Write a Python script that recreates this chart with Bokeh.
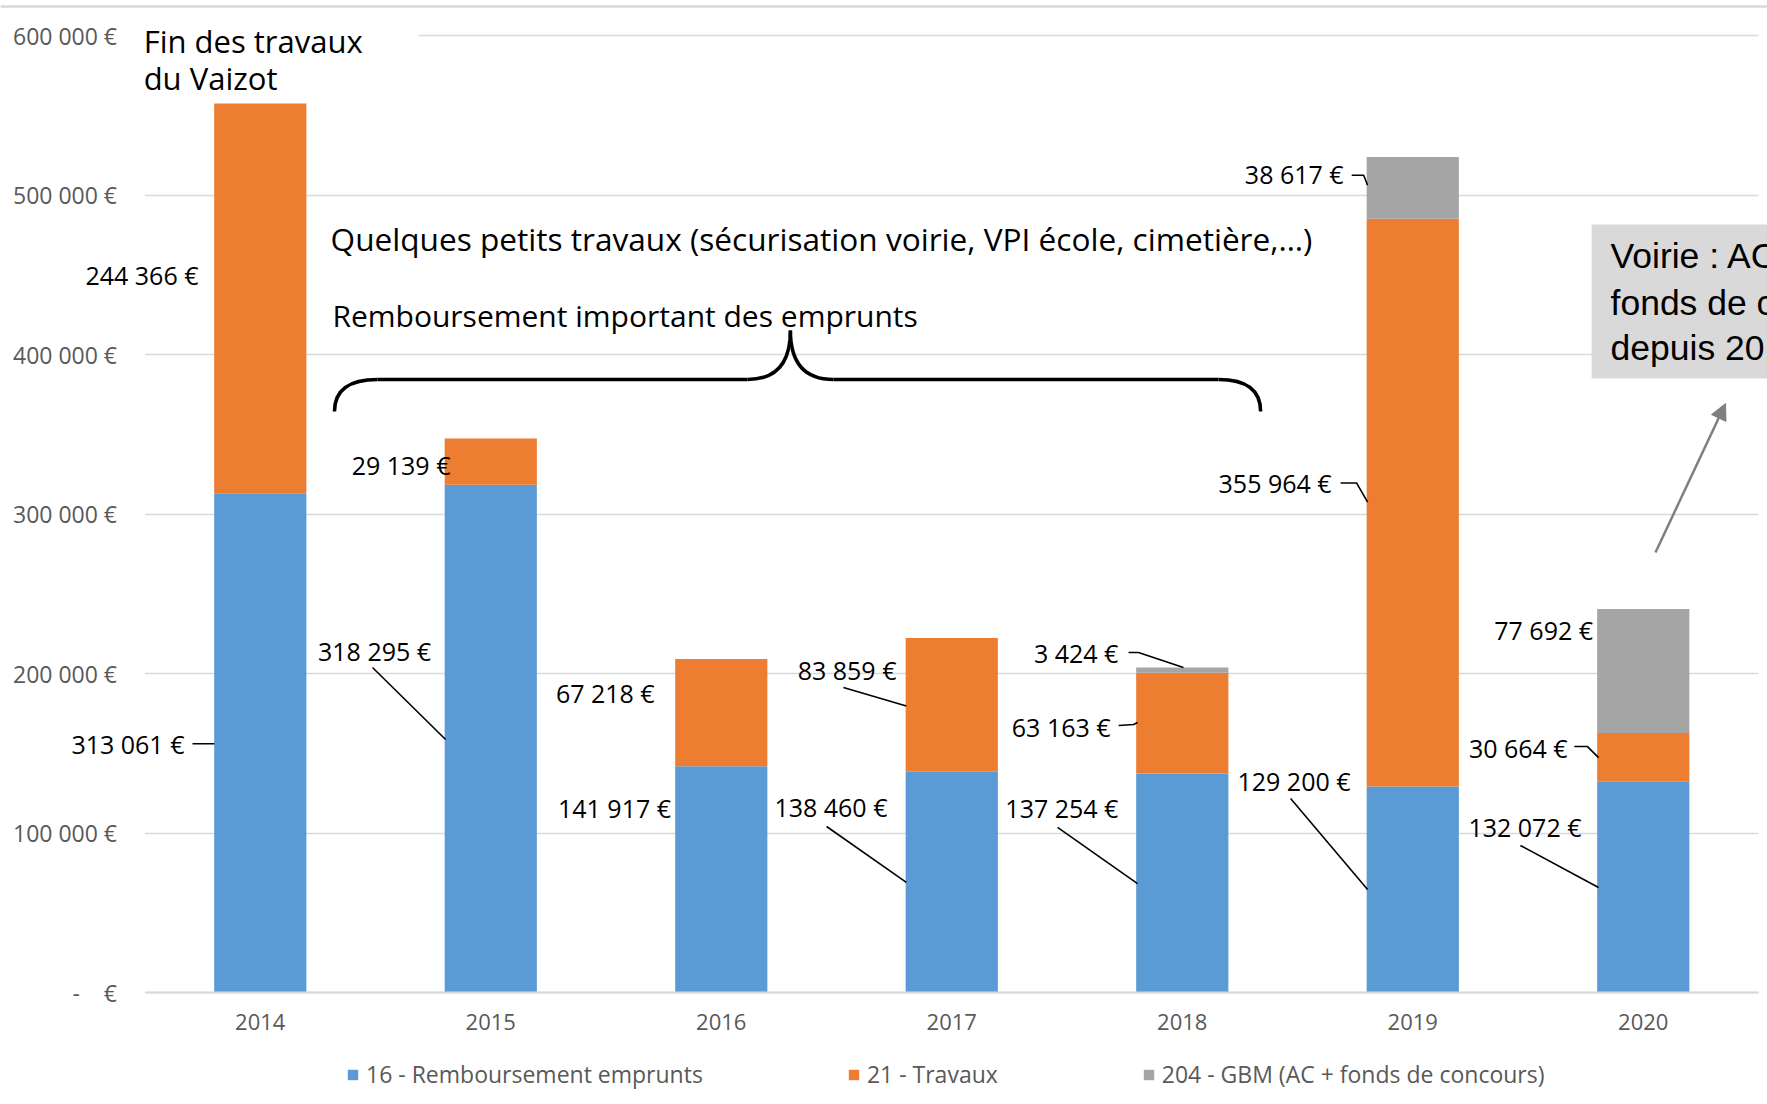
from bokeh.plotting import figure
from bokeh.models import (ColumnDataSource, FixedTicker, Legend, LegendItem, Span,
                          Arrow, NormalHead, Range1d)
from bokeh.core.properties import value
from bokeh.embed import file_html
from bokeh.resources import INLINE

# ---------------- data ----------------
years = ["2014", "2015", "2016", "2017", "2018", "2019", "2020"]
remboursement = [313061, 318295, 141917, 138460, 137254, 129200, 132072]
travaux = [244366, 29139, 67218, 83859, 63163, 355964, 30664]
gbm = [0, 0, 0, 0, 3424, 38617, 77692]
series_names = ["16 - Remboursement emprunts", "21 - Travaux",
                "204 - GBM (AC + fonds de concours)"]
series_colors = ["#5B9BD5", "#ED7D31", "#A5A5A5"]
y_ticks = [0, 100000, 200000, 300000, 400000, 500000, 600000]
y_tick_labels = ["-\u00a0\u00a0\u00a0\u00a0€", "100 000 €", "200 000 €", "300 000 €",
                 "400 000 €", "500 000 €", "600 000 €"]

# label layout: (series index, year index, label right x, label y, leader xs, leader ys)
label_layout = [
    (1, 0, -0.268, 450000, [], []),
    (0, 0, -0.329, 156000, [-0.294, -0.199], [156000, 156000]),
    (1, 1, 0.825, 331000, [], []),
    (0, 1, 0.741, 214400, [0.487, 0.804], [203800, 158600]),
    (1, 2, 1.711, 187500, [], []),
    (0, 2, 1.782, 115400, [], []),
    (1, 3, 2.760, 202300, [2.530, 2.803], [191200, 179600]),
    (0, 3, 2.721, 116600, [2.457, 2.803], [104100, 69000]),
    (2, 4, 3.723, 212600, [3.767, 3.810, 4.005], [213200, 213200, 203800]),
    (1, 4, 3.689, 166200, [3.724, 3.789, 3.806], [167400, 168000, 169300]),
    (0, 4, 3.723, 115400, [3.459, 3.806], [103500, 68300]),
    (2, 5, 4.700, 513100, [4.735, 4.787, 4.804], [512400, 512400, 506100]),
    (1, 5, 4.648, 319500, [4.687, 4.756, 4.804], [319500, 319500, 307500]),
    (0, 5, 4.730, 132900, [4.470, 4.804], [121600, 64600]),
    (2, 6, 5.782, 227000, [], []),
    (1, 6, 5.672, 153600, [5.701, 5.758, 5.806], [154200, 154200, 147300]),
    (0, 6, 5.732, 103500, [5.467, 5.806], [92200, 65800]),
]

series_values = [remboursement, travaux, gbm]


def fmt(v):
    return f"{v:,}".replace(",", " ") + " €"


FONT = value("Open Sans")

# ---------------- figure (frame covers the whole canvas) ----------------
X0, X1 = -1.127, 6.539
Y0, Y1 = -67716, 621984
p = figure(width=1767, height=1100, x_range=Range1d(X0, X1), y_range=Range1d(Y0, Y1),
           output_backend="svg", toolbar_location=None, title=None,
           min_border_left=0, min_border_right=0, min_border_top=0, min_border_bottom=0)
p.outline_line_color = None
p.background_fill_color = "white"
p.border_fill_color = "white"

src = ColumnDataSource(dict(x=list(range(len(years))), r=remboursement, t=travaux, g=gbm))

# axes (fixed inside the frame)
p.xaxis.fixed_location = 0
p.xaxis.bounds = (-0.5, 6.5)
p.xaxis.ticker = FixedTicker(ticks=list(range(len(years))))
p.xaxis.major_label_overrides = {i: y for i, y in enumerate(years)}
p.xaxis.axis_line_color = "#d9d9d9"
p.xaxis.axis_line_width = 2
p.xaxis.major_tick_line_color = None
p.xaxis.minor_tick_line_color = None
p.xaxis.major_label_standoff = 15
p.xaxis.major_label_text_font_size = "22px"
p.yaxis.fixed_location = -0.5
p.yaxis.ticker = FixedTicker(ticks=y_ticks)
p.yaxis.major_label_overrides = {t: l for t, l in zip(y_ticks, y_tick_labels)}
p.yaxis.axis_line_color = None
p.yaxis.major_tick_line_color = None
p.yaxis.minor_tick_line_color = None
p.yaxis.major_label_standoff = 22
p.yaxis.major_label_text_font_size = "23px"
for ax in (p.xaxis, p.yaxis):
    ax.major_label_text_font = "Open Sans"
    ax.major_label_text_color = "#595959"
p.xgrid.grid_line_color = None
p.ygrid.grid_line_color = "#d9d9d9"
p.ygrid.grid_line_width = 1.5

# white margins hiding the grid outside the category area
p.quad(left=[X0, 6.5], right=[-0.5, X1], bottom=[Y0, Y0], top=[Y1, Y1],
       fill_color="white", line_color=None)
# white background of "Fin des travaux" over the top gridline
p.quad(left=[-0.5], right=[0.687], bottom=[578000], top=[612000], fill_color="white",
       line_color=None)

# top border line
p.add_layout(Span(location=618200, dimension="width", line_color="#d9d9d9", line_width=2.5))

bars = p.vbar_stack(["r", "t", "g"], x="x", width=0.4, color=series_colors, line_color=None,
                    source=src)

# data labels and leaders
lx, ly, lt = [], [], []
lead_xs, lead_ys = [], []
for s, i, x, y, xs, ys in label_layout:
    lx.append(x)
    ly.append(y)
    lt.append(fmt(series_values[s][i]))
    if xs:
        lead_xs.append(xs)
        lead_ys.append(ys)
p.multi_line(lead_xs, lead_ys, line_color="black", line_width=1.6)
p.text(lx, ly, text=lt, text_align="right", text_baseline="middle", text_font=FONT,
       text_font_size="25px", text_color="black")

p.text([-0.506, -0.506], [596900, 573100], text=["Fin des travaux", "du Vaizot"],
       text_align="left", text_baseline="middle", text_font=FONT, text_font_size="31px",
       text_color="black")

p.text([0.305], [472700],
       text=["Quelques petits travaux (sécurisation voirie, VPI école, cimetière,…)"],
       text_align="left", text_baseline="middle", text_font=FONT, text_font_size="31.6px",
       text_color="black")
p.text([0.313], [424500], text=["Remboursement important des emprunts"],
       text_align="left", text_baseline="middle", text_font=FONT, text_font_size="30px",
       text_color="black")

# brace
yb_end, yb_mid, yb_peak = 364300, 384350, 415100
p.quadratic(x0=[0.322, 2.114, 2.300, 4.157], y0=[yb_end, yb_mid, yb_peak, yb_mid],
            x1=[0.509, 2.300, 2.487, 4.340], y1=[yb_mid, yb_peak, yb_mid, yb_end],
            cx=[0.322, 2.300, 2.300, 4.340], cy=[yb_mid, yb_mid, yb_mid, yb_mid],
            line_color="black", line_width=3.5)
p.segment(x0=[0.509, 2.487], y0=[yb_mid, yb_mid], x1=[2.114, 4.157], y1=[yb_mid, yb_mid],
          line_color="black", line_width=3.5)

# Voirie box
p.quad(left=[5.776], right=[X1], bottom=[385000], top=[481500], fill_color="#d9d9d9",
       line_color=None)
p.text([5.858, 5.858, 5.858], [461500, 432600, 403800],
       text=["Voirie : AC +", "fonds de concours", "depuis 2018"],
       text_align="left", text_baseline="middle", text_font=value("Liberation Sans"),
       text_font_size="35.5px", text_color="black")

p.add_layout(Arrow(end=NormalHead(size=16, fill_color="#7f7f7f", line_color="#7f7f7f"),
                   x_start=6.053, y_start=275900, x_end=6.357, y_end=369300,
                   line_color="#7f7f7f", line_width=2.5))

# legend
legend = Legend(items=[LegendItem(label=n, renderers=[r]) for n, r in zip(series_names, bars)],
                orientation="horizontal", location=(346, 10), glyph_width=13,
                glyph_height=13, label_standoff=7, spacing=144, padding=0, margin=0,
                border_line_color=None, background_fill_alpha=0, label_text_font="Open Sans",
                label_text_font_size="23px", label_text_color="#595959", label_height=13)
p.add_layout(legend)

open("out.html", "w").write(file_html(p, INLINE))
